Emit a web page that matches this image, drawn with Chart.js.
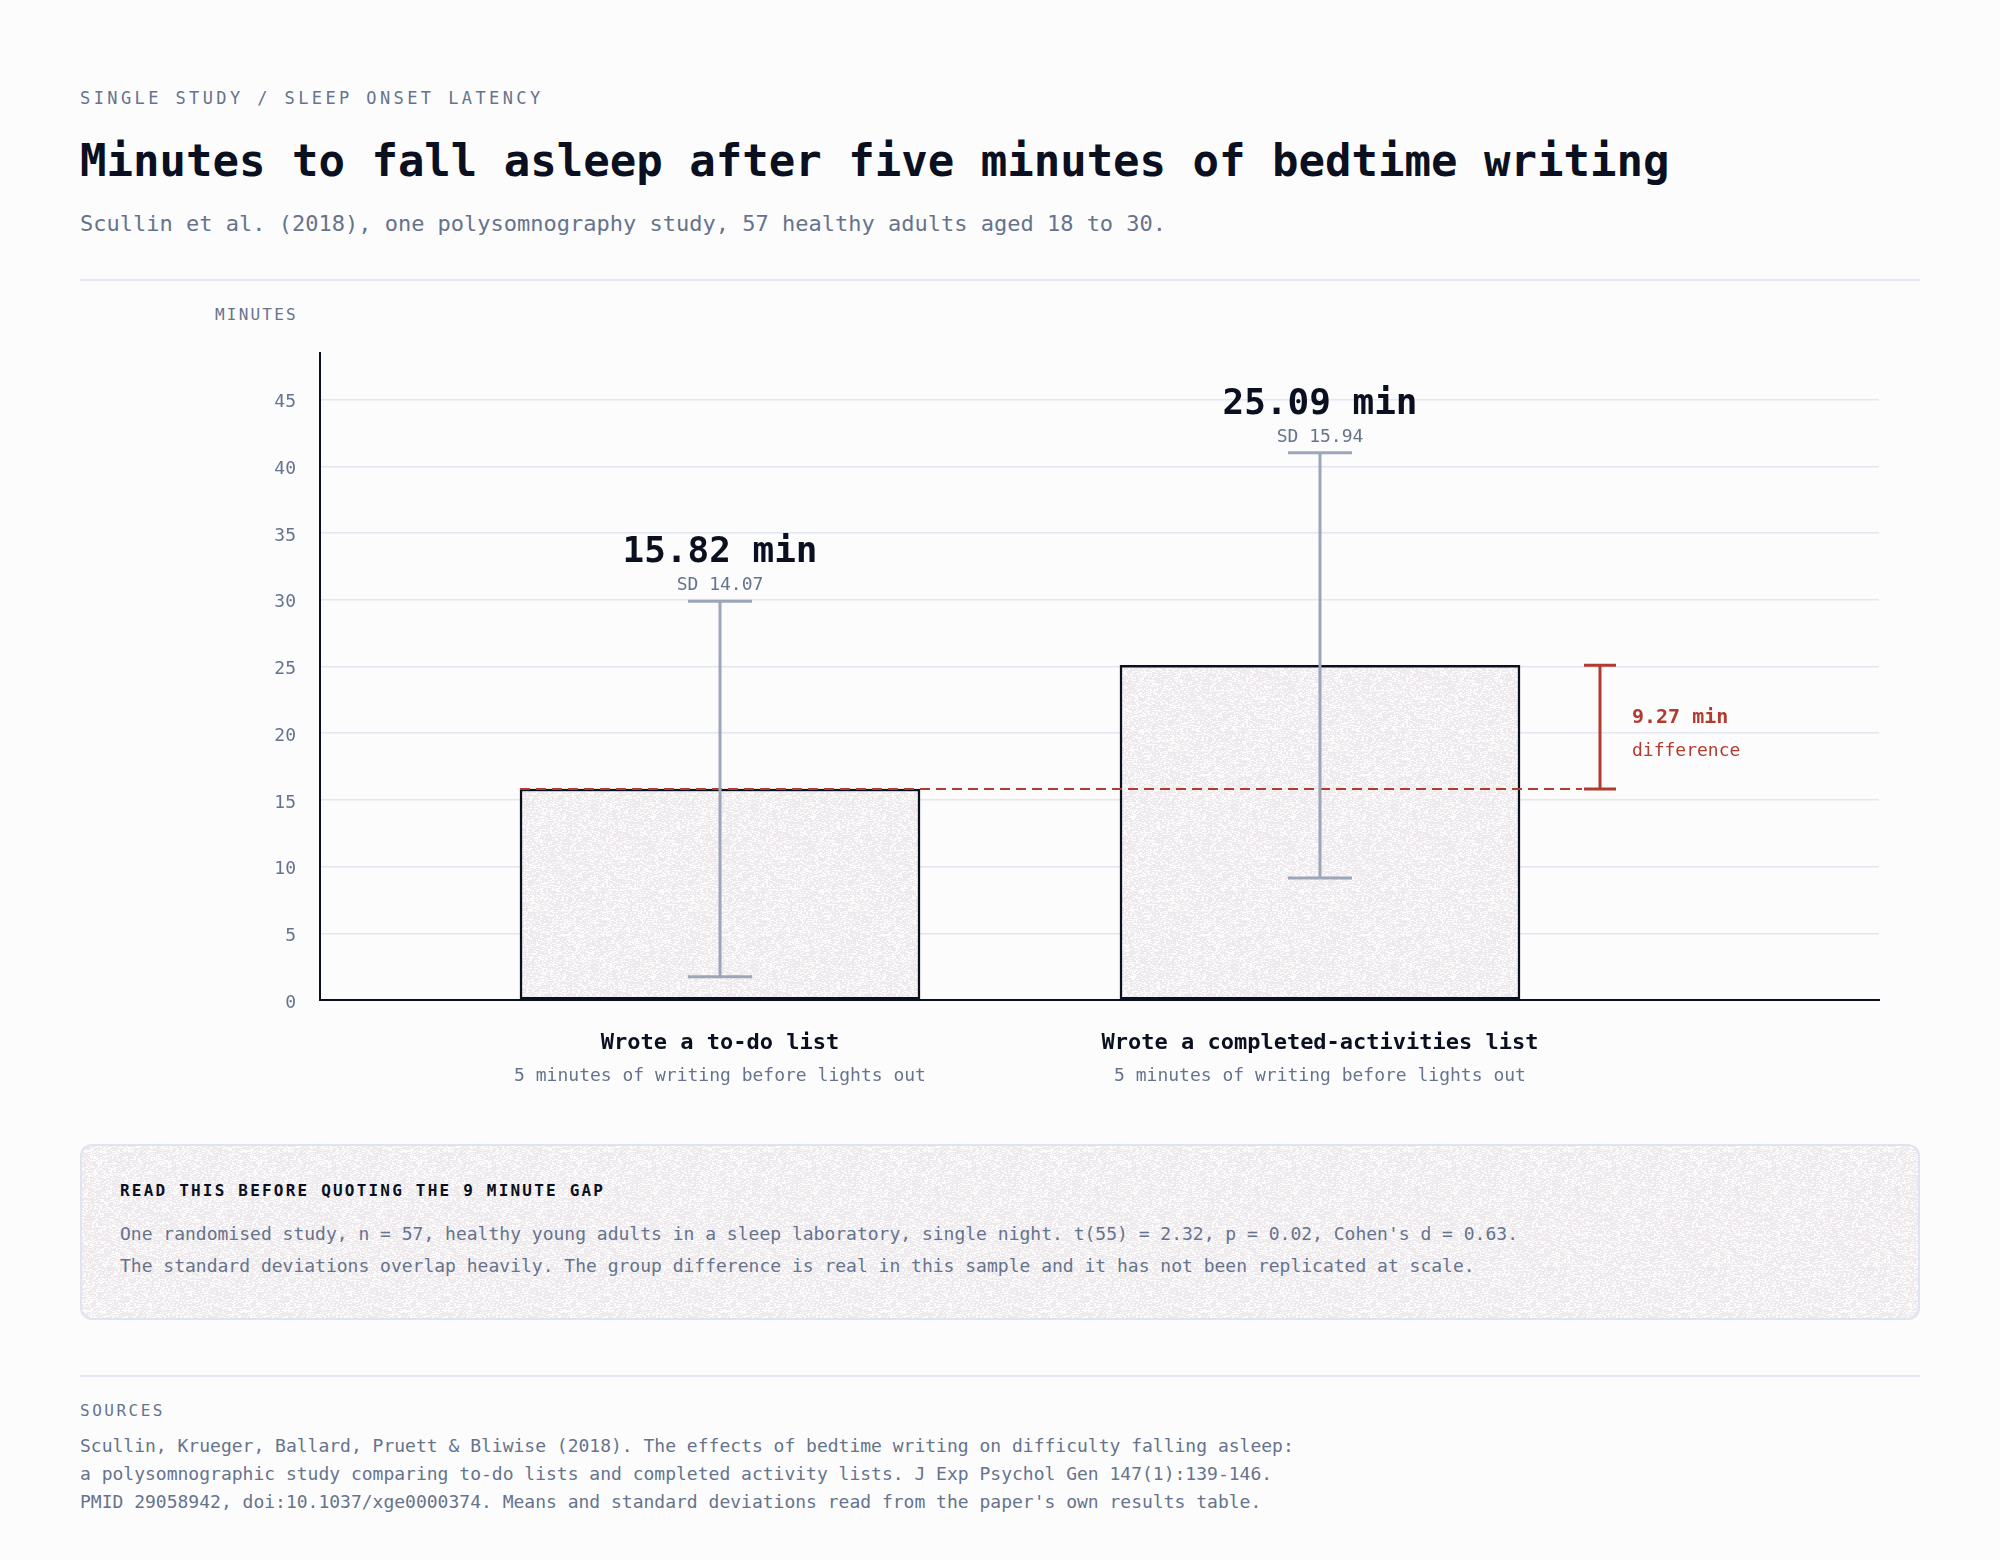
<!DOCTYPE html>
<html>
<head>
<meta charset="utf-8">
<title>Minutes to fall asleep after five minutes of bedtime writing</title>
<script src="https://cdn.jsdelivr.net/npm/chart.js@4.4.1/dist/chart.umd.min.js"></script>
<style>
  body { margin: 0; background: #fcfcfd; font-family: "DejaVu Sans Mono", monospace; color: #66738c; }
  #page { position: relative; width: 2000px; height: 1560px; overflow: hidden; }
  .t { position: absolute; white-space: pre; line-height: 1; }
  .rule { position: absolute; left: 80px; width: 1840px; height: 2px; background: #e3e7f0; }
  #kicker { left: 80px; top: 90px; font-size: 17px; letter-spacing: 3.4px; }
  #title { left: 80px; top: 139px; font-size: 44px; font-weight: bold; color: #0b1020; }
  #subtitle { left: 80px; top: 213px; font-size: 22px; }
  #ylab { left: 215px; top: 307px; font-size: 16px; letter-spacing: 2.2px; }
  #chartBox { position: absolute; left: 80px; top: 290px; width: 1840px; height: 820px; }
  #note { position: absolute; left: 80px; top: 1144px; width: 1836px; height: 172px; border: 2px solid #e0e4ef; border-radius: 12px; }
  #noteHead { left: 120px; top: 1183px; font-size: 16px; font-weight: bold; letter-spacing: 2.2px; color: #0b1020; }
  #noteBody { left: 120px; top: 1218px; font-size: 18px; line-height: 32px; }
  #srcHead { left: 80px; top: 1403px; font-size: 16px; letter-spacing: 2.5px; }
  #srcBody { left: 80px; top: 1432px; font-size: 18px; line-height: 28px; }
</style>
</head>
<body>
<div id="page">
  <div class="t" id="kicker">SINGLE STUDY / SLEEP ONSET LATENCY</div>
  <div class="t" id="title">Minutes to fall asleep after five minutes of bedtime writing</div>
  <div class="t" id="subtitle">Scullin et al. (2018), one polysomnography study, 57 healthy adults aged 18 to 30.</div>
  <div class="rule" style="top:279px"></div>
  <div class="t" id="ylab">MINUTES</div>
  <div id="chartBox"><canvas id="chart"></canvas></div>
  <div id="note"></div>
  <div class="t" id="noteHead">READ THIS BEFORE QUOTING THE 9 MINUTE GAP</div>
  <div class="t" id="noteBody">One randomised study, n = 57, healthy young adults in a sleep laboratory, single night. t(55) = 2.32, p = 0.02, Cohen's d = 0.63.
The standard deviations overlap heavily. The group difference is real in this sample and it has not been replicated at scale.</div>
  <div class="rule" style="top:1375px"></div>
  <div class="t" id="srcHead">SOURCES</div>
  <div class="t" id="srcBody">Scullin, Krueger, Ballard, Pruett &amp; Bliwise (2018). The effects of bedtime writing on difficulty falling asleep:
a polysomnographic study comparing to-do lists and completed activity lists. J Exp Psychol Gen 147(1):139-146.
PMID 29058942, doi:10.1037/xge0000374. Means and standard deviations read from the paper's own results table.</div>
</div>
<script>
// data
var groups = ["Wrote a to-do list", "Wrote a completed-activities list"];
var groupNotes = ["5 minutes of writing before lights out", "5 minutes of writing before lights out"];
var groupPos = [0, 1];
var means = [15.82, 25.09];
var sds = [14.07, 15.94];
var yTicks = [0, 5, 10, 15, 20, 25, 30, 35, 40, 45];
var yMax = 48.5;

var INK = "#0b1020";
var GREY = "#66738c";
var WHISKER = "#9ca6b8";
var RED = "#b23b30";
var FONT = '"DejaVu Sans Mono", monospace';

// speckled paper texture for bars and the note box
function makeTexture() {
  var c = document.createElement("canvas");
  c.width = 160; c.height = 160;
  var g = c.getContext("2d");
  var img = g.createImageData(160, 160);
  for (var j = 0; j < 160; j++) {
    for (var i = 0; i < 160; i++) {
      // hash on 2px-wide cells so the speckle clumps a little
      var ci = i >> (j % 3 == 0 ? 0 : 1);
      var h = Math.imul(ci, 374761393) + Math.imul(j, 668265263) | 0;
      h = Math.imul(h ^ (h >>> 13), 1274126177);
      var n = ((h ^ (h >>> 16)) >>> 0) / 4294967296;
      var k = (j * 160 + i) * 4;
      var white = n < 0.38;
      img.data[k] = white ? 253 : 237;
      img.data[k + 1] = white ? 252 : 233;
      img.data[k + 2] = white ? 253 : 236;
      img.data[k + 3] = 255;
    }
  }
  g.putImageData(img, 0, 0);
  return c;
}
var tex = makeTexture();
document.getElementById("note").style.background = "url(" + tex.toDataURL() + ")";

var points = [];
for (var i in means) {
  points.push({ x: groupPos[i], y: means[i] });
}

var annotate = {
  id: "annotate",
  afterDatasetsDraw: function (chart) {
    var ctx = chart.ctx;
    var xs = chart.scales.x, ys = chart.scales.y;
    var bars = chart.getDatasetMeta(0).data;
    ctx.save();

    // reference line from the to-do mean and the difference bracket
    var left0 = bars[0].x - bars[0].width / 2;
    var right1 = bars[1].x + bars[1].width / 2;
    var bx = right1 + 80;
    var yA = ys.getPixelForValue(means[0]);
    var yB = ys.getPixelForValue(means[1]);
    ctx.strokeStyle = RED;
    ctx.lineWidth = 2;
    ctx.setLineDash([10, 6]);
    ctx.beginPath();
    ctx.moveTo(left0, yA);
    ctx.lineTo(bx - 18, yA);
    ctx.stroke();
    ctx.setLineDash([]);
    ctx.lineWidth = 3;
    ctx.beginPath();
    ctx.moveTo(bx, yA); ctx.lineTo(bx, yB);
    ctx.moveTo(bx - 16, yA); ctx.lineTo(bx + 16, yA);
    ctx.moveTo(bx - 16, yB); ctx.lineTo(bx + 16, yB);
    ctx.stroke();
    var mid = (yA + yB) / 2;
    ctx.fillStyle = RED;
    ctx.textAlign = "left";
    ctx.textBaseline = "alphabetic";
    ctx.font = "bold 20px " + FONT;
    ctx.fillText((means[1] - means[0]).toFixed(2) + " min", bx + 32, mid - 4);
    ctx.font = "18px " + FONT;
    ctx.fillText("difference", bx + 32, mid + 29);

    // error bars (mean +/- SD) and value labels
    for (var i = 0; i < means.length; i++) {
      var x = bars[i].x;
      var yt = ys.getPixelForValue(means[i] + sds[i]);
      var yb = ys.getPixelForValue(means[i] - sds[i]);
      ctx.strokeStyle = WHISKER;
      ctx.lineWidth = 3;
      ctx.beginPath();
      ctx.moveTo(x, yt); ctx.lineTo(x, yb);
      ctx.moveTo(x - 32, yt); ctx.lineTo(x + 32, yt);
      ctx.moveTo(x - 32, yb); ctx.lineTo(x + 32, yb);
      ctx.stroke();

      ctx.textAlign = "center";
      ctx.fillStyle = INK;
      ctx.font = "bold 36px " + FONT;
      ctx.fillText(means[i].toFixed(2) + " min", x, yt - 39);
      ctx.fillStyle = GREY;
      ctx.font = "18px " + FONT;
      ctx.fillText("SD " + sds[i].toFixed(2), x, yt - 11);

      // category labels under the axis
      var cx = xs.getPixelForValue(groupPos[i]);
      ctx.fillStyle = INK;
      ctx.font = "bold 22px " + FONT;
      ctx.fillText(groups[i], cx, ys.bottom + 49);
      ctx.fillStyle = GREY;
      ctx.font = "18px " + FONT;
      ctx.fillText(groupNotes[i], cx, ys.bottom + 81);
    }
    ctx.restore();
  }
};

var ctx = document.getElementById("chart").getContext("2d");
var chart = new Chart(ctx, {
  type: "bar",
  data: {
    datasets: [{
      label: "Sleep onset latency",
      data: points,
      backgroundColor: ctx.createPattern(tex, "repeat"),
      borderColor: INK,
      borderWidth: 2.5,
      borderSkipped: false,
      barThickness: 400
    }]
  },
  options: {
    responsive: true,
    maintainAspectRatio: false,
    animation: false,
    layout: { padding: { top: 63, right: 41, left: 0, bottom: 0 } },
    plugins: { legend: { display: false }, tooltip: { enabled: false } },
    scales: {
      x: {
        type: "linear",
        bounds: "data",
        min: -0.6667,
        max: 1.9317,
        grid: { display: false },
        border: { display: true, color: INK, width: 2 },
        ticks: { display: false },
        afterBuildTicks: function (s) { s.ticks = []; },
        afterFit: function (s) { s.height = 110; }
      },
      y: {
        bounds: "data",
        min: 0,
        max: yMax,
        grid: { color: "#e2e6f0", lineWidth: 1.5, drawTicks: false },
        border: { display: true, color: INK, width: 2 },
        ticks: { color: GREY, padding: 24, labelOffset: 3, font: { family: FONT, size: 18 } },
        afterBuildTicks: function (s) { s.ticks = yTicks.map(function (v) { return { value: v }; }); },
        afterFit: function (s) { s.width = 240; }
      }
    }
  },
  plugins: [annotate]
});
</script>
</body>
</html>
